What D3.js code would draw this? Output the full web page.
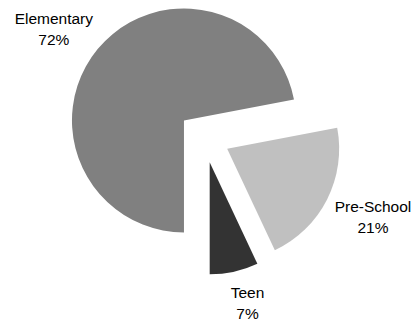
<!DOCTYPE html>
<html>
<head>
<meta charset="utf-8">
<script src="https://cdn.jsdelivr.net/npm/d3@7"></script>
<style>
  html, body { margin: 0; padding: 0; background: #fff; }
  svg { display: block; }
  text { font-family: "Liberation Sans", Arial, sans-serif; font-size: 15.5px; fill: #000; }
</style>
</head>
<body>
<svg id="chart" width="414" height="322"></svg>
<script>
// Enrolment share by age group
const categories = ["Elementary", "Pre-School", "Teen"];
const shares = [72, 21, 7];

const colors = ["#808080", "#c0c0c0", "#333333"];

const width = 414, height = 322;
const cx = 204, cy = 137;       // pie centre
const radius = 112;
const explode = 26;             // every slice is pulled out from the centre
const labelRadius = 155;        // label distance from a slice's apex
// small per-label nudges so the text sits clear of its slice
const labelNudge = [[-10.7, 8.1], [7.7, -1.5], [4, -10.4]];

const data = categories.map((c, i) => ({ name: c, value: shares[i], color: colors[i], i }));

const pie = d3.pie()
  .value(d => d.value)
  .sort(null)
  .startAngle(Math.PI)
  .endAngle(Math.PI * 3);

const arc = d3.arc().innerRadius(0).outerRadius(radius);

const svg = d3.select("#chart");
const g = svg.append("g").attr("transform", `translate(${cx},${cy})`);

const arcs = pie(data);

function dir(a) {
  const m = (a.startAngle + a.endAngle) / 2;
  return [Math.sin(m), -Math.cos(m)];
}

const slice = g.selectAll("g.slice")
  .data(arcs)
  .join("g")
  .attr("class", "slice")
  .attr("transform", d => {
    const [dx, dy] = dir(d);
    return `translate(${dx * explode},${dy * explode})`;
  });

slice.append("path")
  .attr("d", arc)
  .attr("fill", d => d.data.color);

slice.each(function (d) {
  const [dx, dy] = dir(d);
  const nudge = labelNudge[d.data.i];
  const lx = dx * labelRadius + nudge[0];
  const ly = dy * labelRadius + nudge[1];
  const t = d3.select(this).append("text")
    .attr("text-anchor", "middle")
    .attr("transform", `translate(${lx},${ly})`);
  t.append("tspan").attr("x", 0).attr("y", -5.5).text(d.data.name);
  t.append("tspan").attr("x", 0).attr("y", 15.5).text(d.data.value + "%");
});
</script>
</body>
</html>
